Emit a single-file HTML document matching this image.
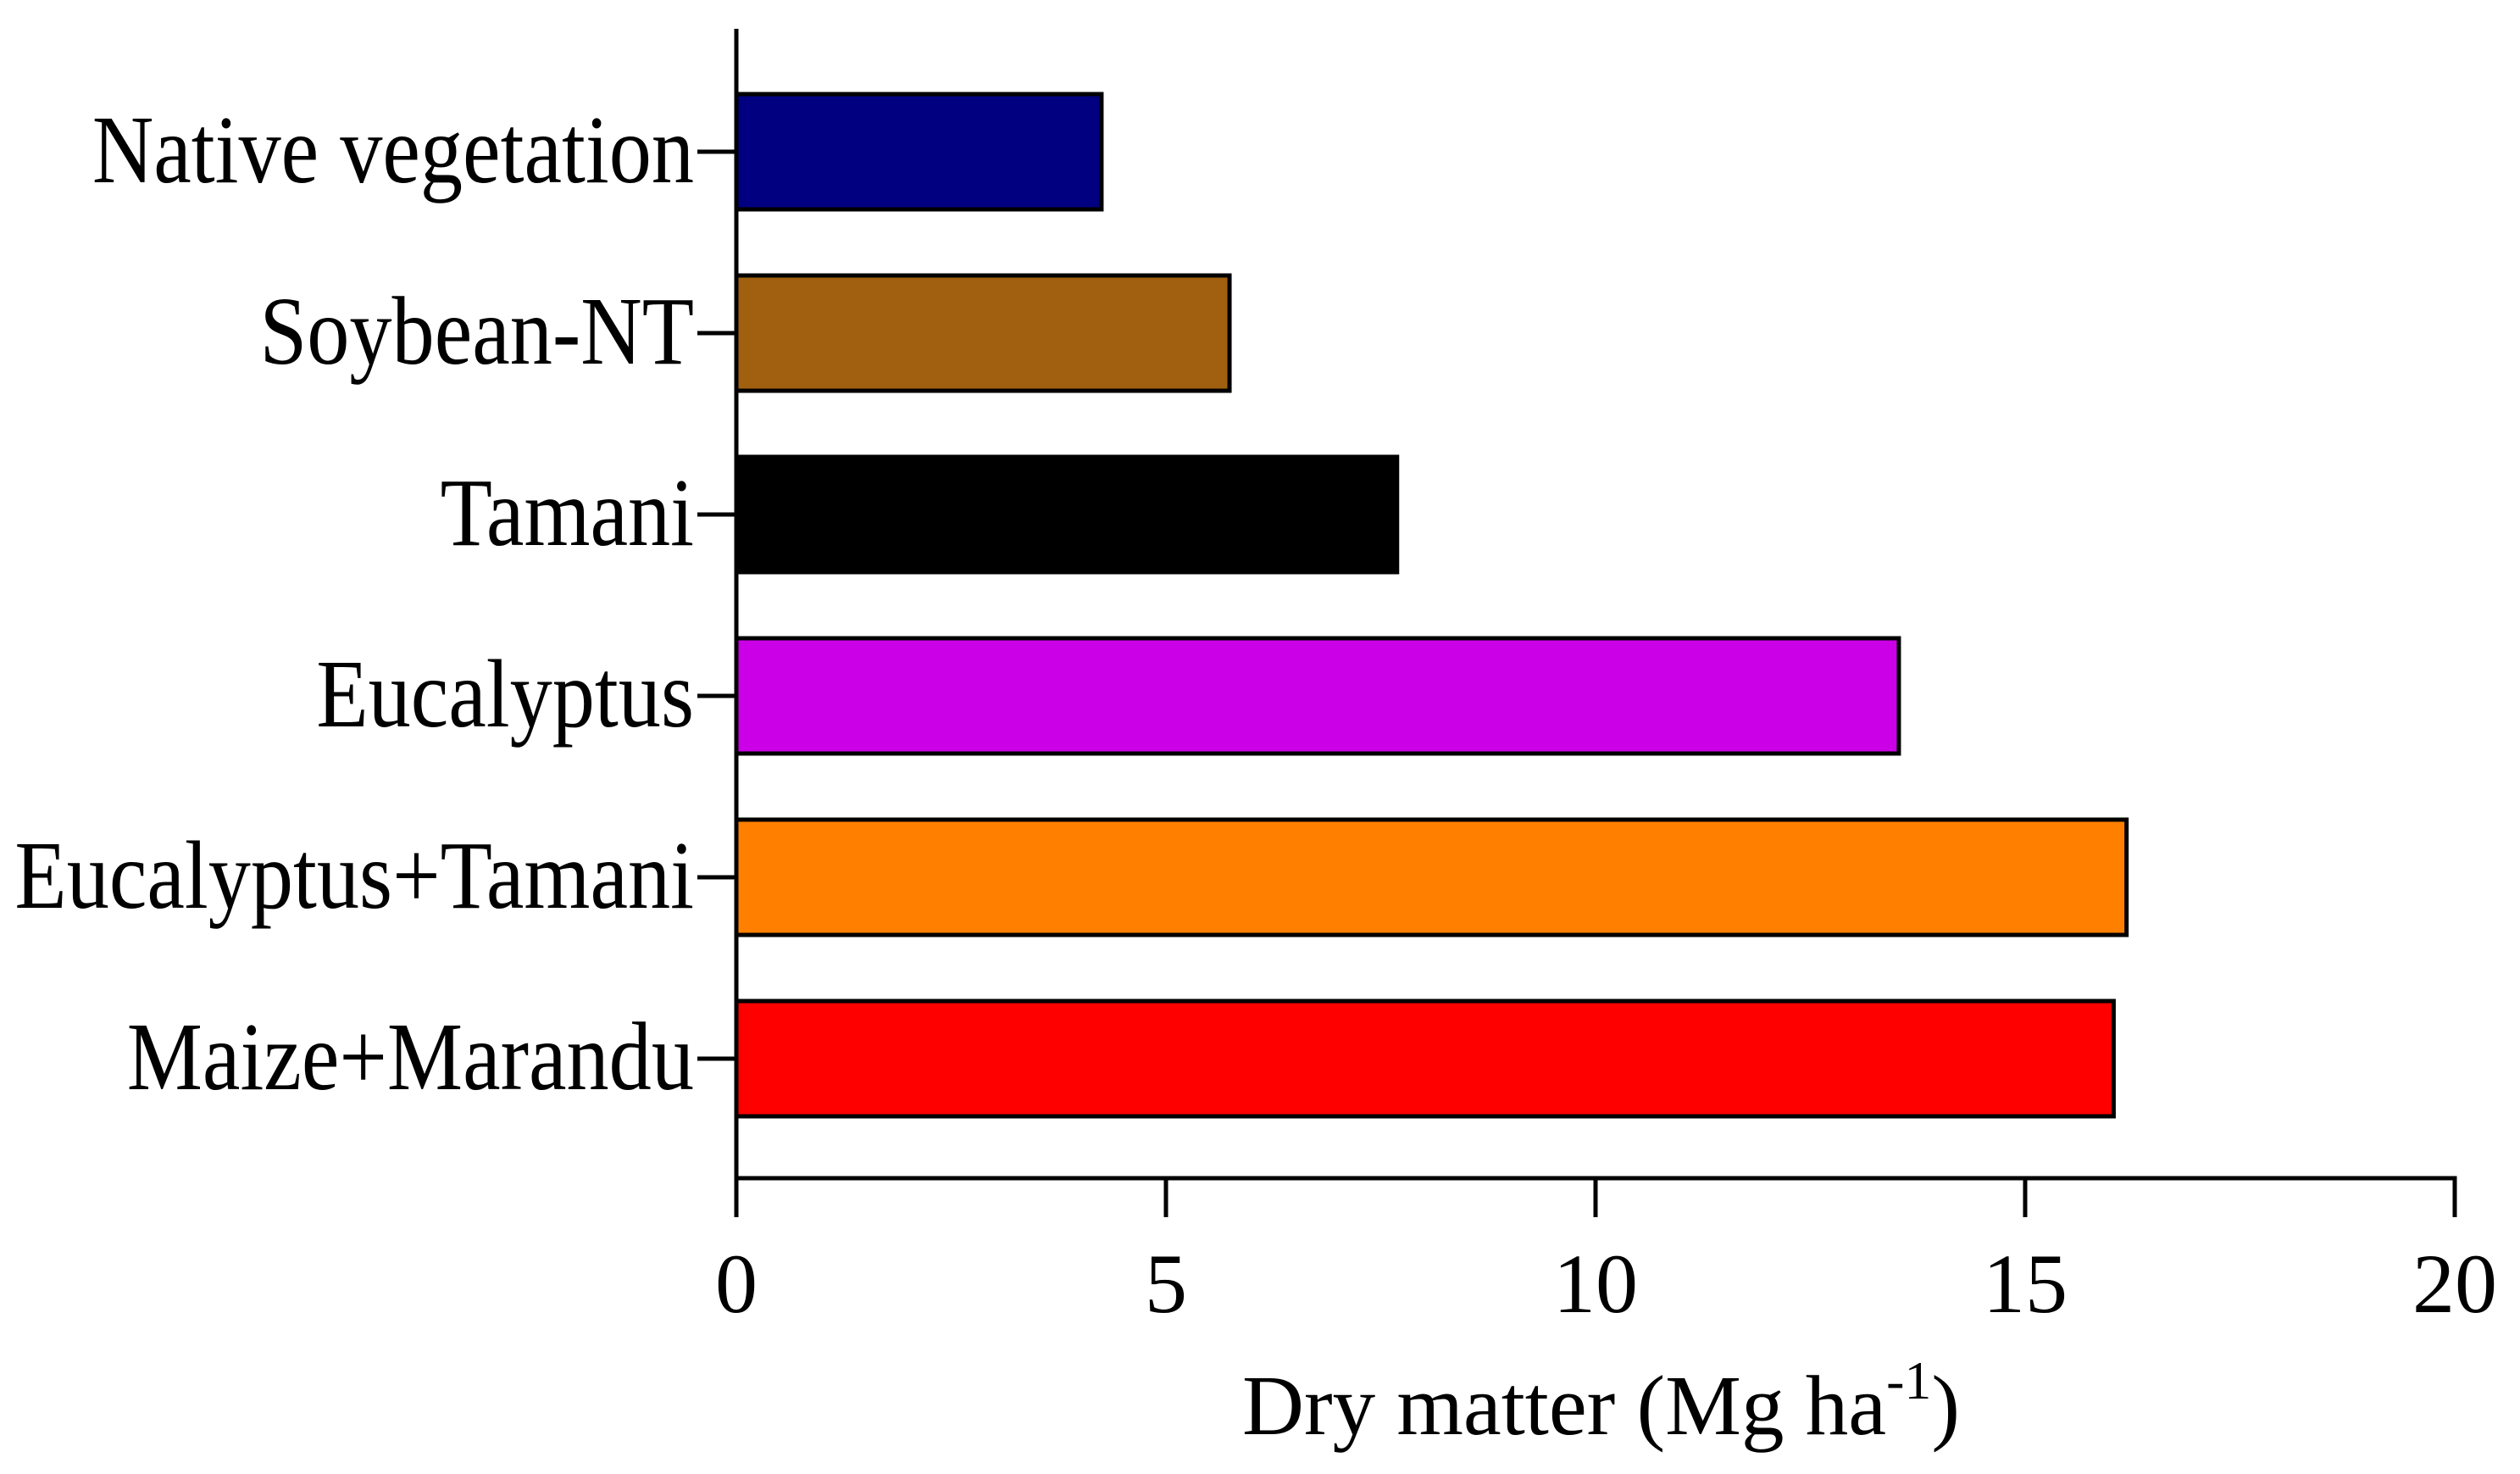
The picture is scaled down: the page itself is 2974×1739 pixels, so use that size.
<!DOCTYPE html>
<html><head><meta charset="utf-8"><style>
html,body{margin:0;padding:0;background:#fff;}
svg{display:block;}
text{font-family:"Liberation Serif",serif;fill:#000;}
</style></head><body>
<svg id="chart" width="2974" height="1739" viewBox="0 0 2974 1739" xmlns="http://www.w3.org/2000/svg"></svg>
<script>
const categories = ["Native vegetation","Soybean-NT","Tamani","Eucalyptus","Eucalyptus+Tamani","Maize+Marandu"];
const values = [4.25, 5.74, 7.69, 13.53, 16.18, 16.03];
const colors = ["#000080","#a06010","#000000","#cc00e6","#ff8000","#ff0000"];
const xTicks = [0,5,10,15,20];
const xTickLabels = ["0","5","10","15","20"];

const svg = document.getElementById('chart');
const NS = 'http://www.w3.org/2000/svg';
const X0 = 869, X1 = 2897, XMAX = 20;
const YTOP = 34, YAXIS = 1390;
const firstCenter = 179, step = 214, barH = 136;
function xs(v){ return X0 + (v / XMAX) * (X1 - X0); }
function yc(i){ return firstCenter + i * step; }
function mk(tag, attrs){ const e = document.createElementNS(NS, tag); for (const k in attrs) e.setAttribute(k, attrs[k]); svg.appendChild(e); return e; }

categories.forEach((c, i) => {
  const r = mk('rect', {x: xs(0), y: yc(i) - barH/2, width: xs(values[i]) - xs(0), height: barH, fill: colors[i], stroke: '#000', 'stroke-width': 5});
  
  
  const t = mk('line', {x1: X0 - 46, x2: X0, y1: yc(i), y2: yc(i), stroke: '#000', 'stroke-width': 5});
  
  
  const l = mk('text', {x: 819, y: yc(i) + 36, 'text-anchor': 'end', 'font-size': 100});
  l.textContent = c;
  
  
  const w = l.getComputedTextLength() * 1.003;
  l.setAttribute('font-size', 114);
  l.setAttribute('textLength', w);
  l.setAttribute('lengthAdjust', 'spacingAndGlyphs');
});

const ya = mk('line', {x1: X0, x2: X0, y1: YTOP, y2: YAXIS, stroke: '#000', 'stroke-width': 5});


const xa = mk('line', {x1: X0 - 2.5, x2: X1 + 2.5, y1: YAXIS, y2: YAXIS, stroke: '#000', 'stroke-width': 5});



xTicks.forEach((v, i) => {
  const t = mk('line', {x1: xs(v), x2: xs(v), y1: YAXIS, y2: YAXIS + 46, stroke: '#000', 'stroke-width': 5});
  
  
  const l = mk('text', {x: xs(v), y: 1548, 'text-anchor': 'middle', 'font-size': 100});
  l.textContent = xTickLabels[i];
  
  
});
</script>
<svg style="position:absolute;left:0;top:0" width="2974" height="1739">
<text x="1466" y="1692" font-size="101" style="font-family:'Liberation Serif',serif">Dry matter (Mg ha<tspan dy="-42" font-size="64">-1</tspan><tspan dy="42">)</tspan></text>
</svg>
</body></html>
